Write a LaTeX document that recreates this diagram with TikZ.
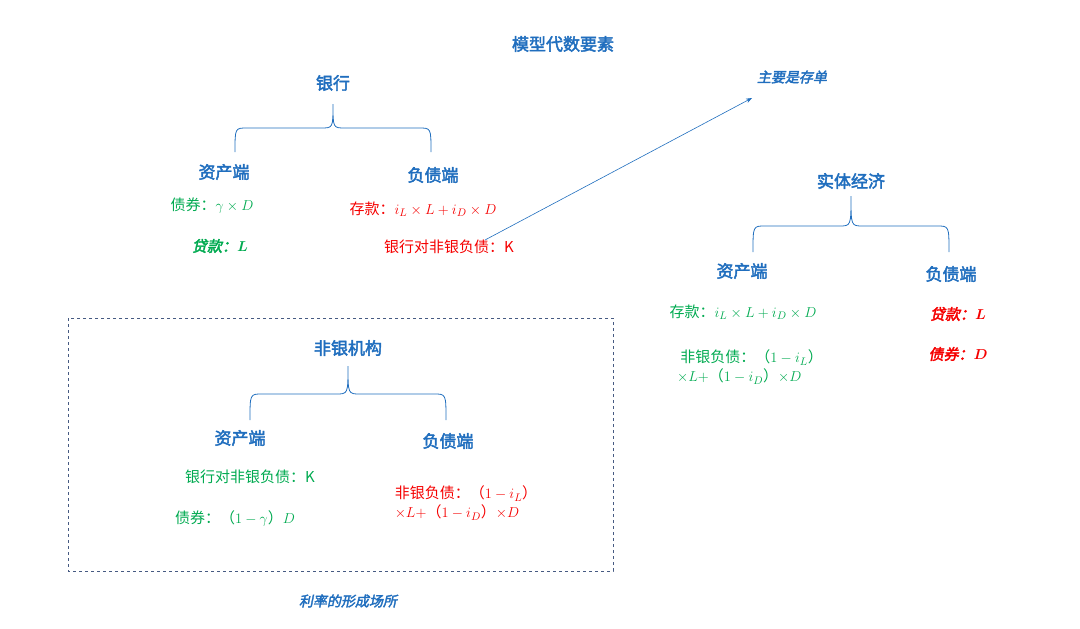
\documentclass[tikz,border=0pt]{standalone}
\usepackage{fontspec}
\setmainfont{Noto Sans CJK SC}[AutoFakeBold=2.5,AutoFakeSlant=0.2]
\usepackage{bm}
\usetikzlibrary{arrows.meta}
\definecolor{tb}{RGB}{32,110,190}
\definecolor{tg}{RGB}{0,170,80}
\definecolor{tr}{RGB}{245,0,0}
\definecolor{bx}{RGB}{70,90,130}
\begin{document}
\begin{tikzpicture}[x=1pt,y=-1pt,
 title/.style={text=tb,font=\fontsize{17}{20}\selectfont\bfseries},
 head/.style={text=tb,font=\fontsize{17}{20}\selectfont\bfseries},
 note/.style={text=tb,font=\fontsize{14}{17}\selectfont\bfseries\itshape},
 g/.style={text=tg,font=\fontsize{15}{19}\selectfont,align=left},
 r/.style={text=tr,font=\fontsize{15}{19}\selectfont,align=left},
 gb/.style={text=tg,font=\fontsize{15}{19}\selectfont\bfseries\itshape},
 rb/.style={text=tr,font=\fontsize{15}{19}\selectfont\bfseries\itshape},
 brace/.style={draw=tb,line width=0.8pt}]
\useasboundingbox (0,0) rectangle (1080,629);
\def\brc#1#2#3#4#5{\draw[brace] (#1,#5) .. controls (#1,#4) .. (#1+12,#4) -- (#2-12,#4) .. controls (#2,#4) .. (#2,#3) .. controls (#2,#4) .. (#2+12,#4) -- ({2*#2-#1-12},#4) .. controls ({2*#2-#1},#4) .. ({2*#2-#1},#5);}
\node[title] (t) at (563,44) {模型代数要素};
% bank
\node[title] (bank) at (333,83) {银行};
\brc{235}{333}{104}{128}{152}
\node[head] (ba) at (224,172) {资产端};
\node[head] (bl) at (433,175) {负债端};
\node[g] (b1) at (212,206) {债券：$\gamma\times D$};
\node[gb] (b2) at (220,246) {贷款：$\bm{L}$};
\node[r] (b3) at (423,209) {存款：$i_L\times L+i_D\times D$};
\node[r] (b4) at (449,247) {银行对非银负债：K};
\node[note] (n1) at (792,77) {主要是存单};
\coordinate (as) at (485,240);
\coordinate (ae) at (752,98);
\draw[tb,line width=0.6pt,-{Stealth[length=6pt]}] (as) -- (ae);
% real economy
\node[title] (re) at (851,181) {实体经济};
\brc{753}{851}{196}{226}{252}
\node[head] (ra) at (742,271) {资产端};
\node[head] (rl) at (951,274) {负债端};
\node[g] (r1) at (743,312) {存款：$i_L\times L+i_D\times D$};
\node[g] (r2) at (750,367) {\ 非银负债：（$1-i_L$）\\$\times L+$（$1-i_D$）$\times D$};
\node[rb] (r3) at (958,314) {贷款：$\bm{L}$};
\node[rb] (r4) at (958,354) {债券：$\bm{D}$};
% nonbank
\draw[bx,dashed,line width=0.8pt] (68,318) rectangle (613,571);
\node[title] (nb) at (348,348) {非银机构};
\brc{250}{348}{366}{394}{420}
\node[head] (na) at (240,438) {资产端};
\node[head] (nl) at (448,441) {负债端};
\node[g] (n1g) at (250,477) {银行对非银负债：K};
\node[g] (n2g) at (235,518) {债券：（$1-\gamma$）$D$};
\node[r] (n3) at (466,503) {非银负债：（$1-i_L$）\\$\times L+$（$1-i_D$）$\times D$};
\node[note] (n2) at (348,601) {利率的形成场所};
\end{tikzpicture}
\end{document}
